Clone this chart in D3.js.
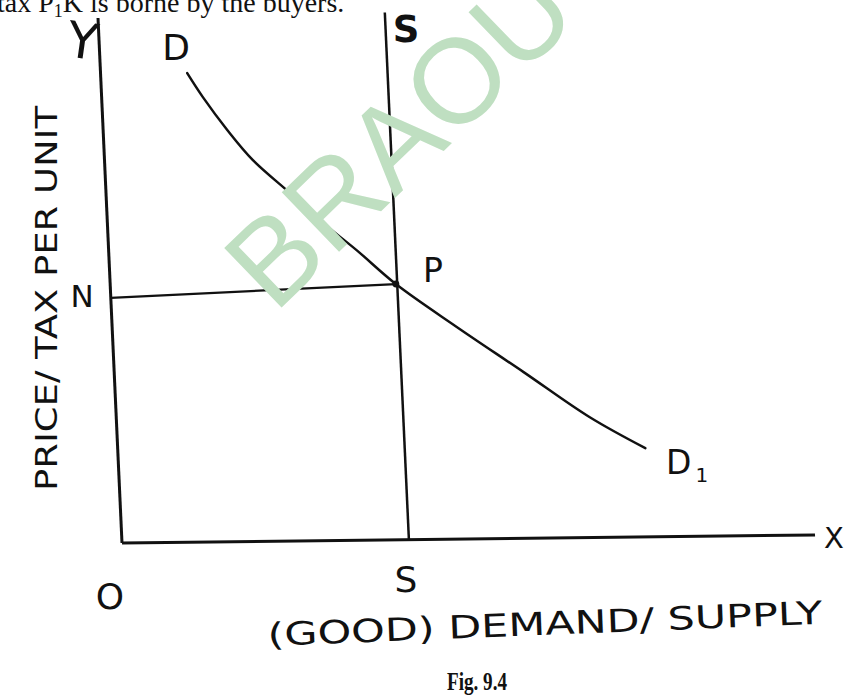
<!DOCTYPE html>
<html>
<head>
<meta charset="utf-8">
<script src="https://cdn.jsdelivr.net/npm/d3@7"></script>
<style>
  body { margin: 0; background: #fff; }
  svg { display: block; }
</style>
</head>
<body>
<svg width="852" height="698"></svg>
<script>
// demand curve D -> D1 (quantity, price)
const demandQty = [1.25, 1.46, 1.79, 2.14, 2.65, 3.11, 3.58, 4.12, 4.97, 5.90, 6.83, 7.61];
const demandPrice = [8.93, 8.47, 7.84, 7.26, 6.63, 6.05, 5.52, 4.87, 4.04, 3.17, 2.29, 1.69];
// vertical supply S-S
const supplyQty = [4.14, 4.14];
const supplyPrice = [0, 10.04];
// equilibrium P and the price line N-P
const equilibrium = [4.12, 4.87];
const priceLineQty = [0, 4.12];
const priceLinePrice = [4.67, 4.87];

const svg = d3.select('svg');

const ink = '#111';

// the scan is slightly skewed, so the plot lives in a sheared group
const plot = svg.append('g')
    .attr('transform', 'matrix(1,-0.01154,0.0457,1,122,543)');

const x = d3.scaleLinear().domain([0, 10]).range([0, 693]);
const y = d3.scaleLinear().domain([0, 10]).range([0, -525]);

// axes
plot.append('line')
    .attr('x1', x(0)).attr('y1', y(0))
    .attr('x2', x(10)).attr('y2', y(0))
    .attr('stroke', ink).attr('stroke-width', 3);
plot.append('line')
    .attr('x1', x(0)).attr('y1', y(0))
    .attr('x2', x(0)).attr('y2', y(10))
    .attr('stroke', ink).attr('stroke-width', 3);

// supply
plot.append('line')
    .attr('x1', x(supplyQty[0])).attr('y1', y(supplyPrice[0]))
    .attr('x2', x(supplyQty[1])).attr('y2', y(supplyPrice[1]))
    .attr('stroke', ink).attr('stroke-width', 2.5);

// N - P
plot.append('line')
    .attr('x1', x(priceLineQty[0])).attr('y1', y(priceLinePrice[0]))
    .attr('x2', x(priceLineQty[1])).attr('y2', y(priceLinePrice[1]))
    .attr('stroke', ink).attr('stroke-width', 2.3);

// demand
const demand = demandQty.map((q, i) => [q, demandPrice[i]]);
const line = d3.line()
    .x(d => x(d[0]))
    .y(d => y(d[1]))
    .curve(d3.curveCatmullRom);
plot.append('path')
    .datum(demand)
    .attr('fill', 'none')
    .attr('stroke', ink)
    .attr('stroke-width', 2.5)
    .attr('stroke-linecap', 'round')
    .attr('d', line);

plot.append('circle')
    .attr('cx', x(equilibrium[0]))
    .attr('cy', y(equilibrium[1]))
    .attr('r', 3.5)
    .attr('fill', ink);

// labels
const labelFont = '"DejaVu Sans", sans-serif';
function label(txt, px, py, size, rot) {
    return svg.append('text')
        .attr('transform', `translate(${px},${py}) rotate(${rot || 0})`)
        .attr('text-anchor', 'middle')
        .style('font-family', labelFont)
        .style('font-size', size + 'px')
        .style('fill', ink)
        .text(txt);
}

label('Y', 80, 58, 50, 8);
label('X', 834, 548, 29, 0);
label('D', 176, 60, 36, 0);
label('S', 406, 42, 37, 0).style('font-weight', 'bold');
label('P', 433, 282, 33, 0);
label('N', 82, 307, 31, 0);
label('O', 110, 609, 36, 0);
label('S', 406, 592, 36, 0);

const d1 = svg.append('text')
    .attr('x', 666).attr('y', 474)
    .style('font-family', labelFont)
    .style('font-size', '33px')
    .style('fill', ink);
d1.append('tspan').text('D');
d1.append('tspan').attr('dx', 4).attr('dy', 8).style('font-size', '20px').text('1');

// y-axis title
svg.append('text')
    .attr('transform', 'translate(57,491) rotate(-90)')
    .attr('textLength', 385)
    .attr('lengthAdjust', 'spacingAndGlyphs')
    .style('font-family', labelFont)
    .style('font-size', '31px')
    .style('fill', ink)
    .text('PRICE/ TAX PER UNIT');

// x-axis title
svg.append('text')
    .attr('transform', 'translate(268,646) rotate(-2.3)')
    .attr('textLength', 555)
    .attr('lengthAdjust', 'spacingAndGlyphs')
    .style('font-family', labelFont)
    .style('font-size', '32px')
    .style('fill', ink)
    .text('(GOOD) DEMAND/ SUPPLY');

// caption
svg.append('text')
    .attr('x', 477).attr('y', 690)
    .attr('text-anchor', 'middle')
    .attr('textLength', 60)
    .attr('lengthAdjust', 'spacingAndGlyphs')
    .style('font-family', '"Liberation Serif", serif')
    .style('font-size', '26px')
    .style('font-weight', 'bold')
    .style('fill', ink)
    .text('Fig. 9.4');

// clipped line of book text at the top edge
const topLine = svg.append('text')
    .attr('x', -3).attr('y', 12)
    .style('font-family', '"Liberation Serif", serif')
    .style('font-size', '28px')
    .style('fill', ink);
topLine.append('tspan').text('tax P');
topLine.append('tspan').attr('dy', 5).style('font-size', '18px').text('1');
topLine.append('tspan').attr('dy', -5).text('K is borne by the buyers.');

// watermark over the drawing, as in the scan
svg.append('text')
    .attr('transform', 'translate(428,166) rotate(-44)')
    .attr('text-anchor', 'middle')
    .style('font-family', '"Liberation Sans", Arial, sans-serif')
    .style('font-size', '120px')
    .style('fill', '#bfdfc1')
    .text('BRAOU');
</script>
</body>
</html>
